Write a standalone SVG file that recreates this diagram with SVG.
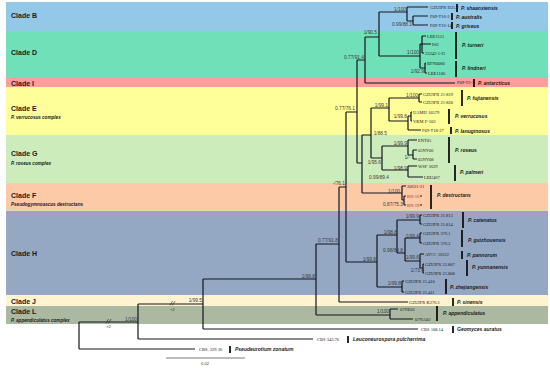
<svg xmlns="http://www.w3.org/2000/svg" width="550" height="368" viewBox="0 0 550 368">
<style>
.cl{font-family:"Liberation Sans",Arial,sans-serif;font-size:7px;font-weight:bold;fill:#1a1a1a}
.cs{font-family:"Liberation Sans",Arial,sans-serif;font-size:4.6px;font-weight:bold;font-style:italic;fill:#1a1a1a}
.lf{font-family:"Liberation Serif","Times New Roman",serif;font-size:4.5px;fill:#1a1a1a}
.sp{font-family:"Liberation Sans",Arial,sans-serif;font-size:5px;font-weight:bold;font-style:italic;fill:#1a1a1a}
.su{font-family:"Liberation Sans",Arial,sans-serif;font-size:4.8px;fill:#3a3a3a;text-anchor:end}
.sm{font-family:"Liberation Sans",Arial,sans-serif;font-size:4px;fill:#333}
.tr{fill:none;stroke:#15151f;stroke-width:1.2}
.bar{stroke:#111;stroke-width:1.8}
.red{fill:#a0302a}
</style>
<g id="bands">
<rect x="6" y="2" width="542" height="29" fill="#94c8e8"/>
<rect x="6" y="31" width="542" height="47" fill="#70e0b8"/>
<rect x="6" y="78" width="542" height="9" fill="#ff9c9c"/>
<rect x="6" y="87" width="542" height="48" fill="#ffff99"/>
<rect x="6" y="135" width="542" height="48" fill="#cdecbb"/>
<rect x="6" y="183" width="542" height="26" fill="#fdcaa8"/>
<rect x="6" y="209" width="542" height="2" fill="#d6dcb6"/>
<rect x="6" y="211" width="542" height="4" fill="#a99cc6"/>
<rect x="6" y="215" width="542" height="80" fill="#94a8c4"/>
<rect x="6" y="295" width="542" height="11" fill="#fff3d0"/>
<rect x="6" y="306" width="542" height="18" fill="#aab99f"/>
</g>
<g id="clade-labels">
<text class="cl" x="11" y="18">Clade B</text>
<text class="cl" x="11" y="55">Clade D</text>
<text class="cl" x="11" y="85.5">Clade I</text>
<text class="cl" x="11" y="111">Clade E</text>
<text class="cs" x="11" y="118.5">P. verrucosus complex</text>
<text class="cl" x="11" y="156">Clade G</text>
<text class="cs" x="11" y="164.5">P. roseus complex</text>
<text class="cl" x="11" y="198">Clade F</text>
<text class="cs" x="11" y="205.5">Pseudogymnoascus destructans</text>
<text class="cl" x="11" y="256">Clade H</text>
<text class="cl" x="11" y="303.5">Clade J</text>
<text class="cl" x="11" y="314">Clade L</text>
<text class="cs" x="11" y="322">P. appendiculatus complex</text>
</g>
<g id="connectors">
<path class="tr" d="M79 322V349M79 322H138M79 349H195M138 304V339M138 339H313M138 304H203M203 279V329M203 329H418M203 279H316M316 244V315M316 315H390M390 309V319M390 309H398M390 319H413M316 244H339M339 187V302M339 302H408M339 187H346M346 112V262"/>
<path class="tr" d="M346 262H377M377 235V287M377 235H397M397 220V253M397 220H420M420 215V224M420 215H422M420 224H422M397 253H405M405 238V261M405 238H420M420 233V243M420 233H422M420 243H422M405 261H420M420 254V268M420 254H424M420 268H423M423 264V273M423 264H424M423 273H424M377 287H402M402 281V292M402 281H404M402 292H404"/>
<path class="tr" d="M346 112H357M357 60V163M357 60H365M365 37V83M365 83H455M365 37H379M379 12V56M379 12H407M407 7V21M407 7H428M407 21H413M413 16V25M413 16H428M413 25H428M379 56H420M420 44V68M420 44H422M422 36V53M422 36H426M422 44H431M422 53H424M420 68H425M425 63V73M425 63H426M425 73H427"/>
<path class="tr" d="M357 163H362M362 135V193M362 135H371M371 108V158M371 108H389M389 98V121M389 98H419M419 94V102M419 94H422M419 102H422M389 121H408M408 116V130M408 116H411M411 112V121M411 112H412M411 121H412M408 130H421M371 158H382M382 146V170M382 146H408M408 140V155M408 140H417M408 155H413M413 150V159M413 150H417M413 159H417M382 170H408M408 166V177M408 166H417M408 177H423M362 193H402M402 186V200M402 186H406M402 200H404M404 196V205M404 196H406M404 205H406"/>
<path fill="none" stroke="#222" stroke-width="0.6" d="M106 323.5L108.5 319M108.5 323.5L111 319M170 305.5L172.5 301M172.5 305.5L175 301"/>
<path fill="none" stroke="#222" stroke-width="0.6" d="M166 358H245"/>
</g>
<g id="support">
<text class="su" x="406" y="11">1/100</text>
<text class="su" x="412" y="25.5">0.99/88.1</text>
<text class="su" x="377" y="34">1/90.5</text>
<text class="su" x="364" y="58.5">0.77/91.4</text>
<text class="su" x="419" y="54">1/100</text>
<text class="su" x="424" y="72.5">1/92.9</text>
<text class="su" x="355" y="110">0.77/76.1</text>
<text class="su" x="418" y="96.5">1/100</text>
<text class="su" x="388" y="106.5">1/99.1</text>
<text class="su" x="407" y="117.5">1/99.8</text>
<text class="su" x="387" y="135">1/88.5</text>
<text class="su" x="407" y="144.5">1/99.9</text>
<text class="su" x="410" y="158.5">1/-</text>
<text class="su" x="381" y="164">1/95.6</text>
<text class="su" x="407" y="169.5">1/98.9</text>
<text class="su" x="389" y="179">0.99/89.4</text>
<text class="su" x="345" y="185">-/76.1</text>
<text class="su" x="400" y="193">1/100</text>
<text class="su" x="403" y="205.5">0.87/75.3</text>
<text class="su" x="419" y="217.5">1/99.9</text>
<text class="su" x="397" y="233.5">1/98.8</text>
<text class="su" x="419" y="237.5">1/99.4</text>
<text class="su" x="403" y="252">0.98/84.8</text>
<text class="su" x="419" y="259">1/99.6</text>
<text class="su" x="424" y="271.5">1/73.4</text>
<text class="su" x="376" y="260.5">1/99.8</text>
<text class="su" x="338" y="242">0.77/91.8</text>
<text class="su" x="401" y="285">1/99.8</text>
<text class="su" x="315" y="277.5">1/99.8</text>
<text class="su" x="389" y="313">1/100</text>
<text class="su" x="202" y="302">1/99.5</text>
<text class="su" x="137" y="320.5">1/100</text>
<text class="sm" x="108.5" y="327.5" text-anchor="middle">×2</text>
<text class="sm" x="172.5" y="310.5" text-anchor="middle">×2</text>
<text class="sm" x="205" y="365" text-anchor="middle" font-size="3.5">0.02</text>
</g>
<g id="cladeB">
<text class="lf" x="430" y="8.5">GZUIFR H25.7</text>
<text class="lf" x="430" y="17.5">F09-T16-3</text>
<text class="lf" x="430" y="26.5">F09-T16-14</text>
<line class="bar" x1="457" y1="4" x2="457" y2="12"/>
<line class="bar" x1="452" y1="13" x2="452" y2="20"/>
<line class="bar" x1="452" y1="22" x2="452" y2="29"/>
<text class="sp" x="461" y="9.5">P. shaanxiensis</text>
<text class="sp" x="456" y="18.5">P. australis</text>
<text class="sp" x="456" y="27.5">P. griseus</text>
</g>
<g id="cladeD">
<text class="lf" x="427" y="37.5">LBE1121</text>
<text class="lf" x="432" y="45.5">Pd1</text>
<text class="lf" x="425" y="54.5">23342-1-I1</text>
<text class="lf" x="427" y="64.5">BFN0080</text>
<text class="lf" x="428" y="74.5">LBE1106</text>
<line class="bar" x1="456" y1="32" x2="456" y2="59"/>
<line class="bar" x1="456" y1="61" x2="456" y2="77"/>
<text class="sp" x="462" y="47">P. turneri</text>
<text class="sp" x="462" y="70">P. lindneri</text>
</g>
<g id="cladeI">
<text class="lf" x="457" y="84">F09-T2-1</text>
<line class="bar" x1="474" y1="79" x2="474" y2="87"/>
<text class="sp" x="478" y="84.5">P. antarcticus</text>
</g>
<g id="cladeE">
<text class="lf" x="423" y="95.5">GZUIFR 21-819</text>
<text class="lf" x="423" y="103.5">GZUIFR 21-820</text>
<text class="lf" x="413" y="113.5">UAMH 10579</text>
<text class="lf" x="413" y="122.5">VKM F-103</text>
<text class="lf" x="422" y="131.5">F09-T18-27</text>
<line class="bar" x1="462" y1="90" x2="462" y2="106"/>
<line class="bar" x1="449" y1="109" x2="449" y2="124"/>
<line class="bar" x1="451" y1="127" x2="451" y2="134"/>
<text class="sp" x="467" y="100">P. fujianensis</text>
<text class="sp" x="455" y="118">P. verrucosus</text>
<text class="sp" x="455" y="132.5">P. lanuginosus</text>
</g>
<g id="cladeG">
<text class="lf" x="418" y="141.5">ENT05</text>
<text class="lf" x="418" y="151.5">05NY06</text>
<text class="lf" x="418" y="160.5">05NY08</text>
<text class="lf" x="418" y="167.5">WSF 3629</text>
<text class="lf" x="424" y="178.5">LBU467</text>
<line class="bar" x1="449" y1="137" x2="449" y2="163"/>
<line class="bar" x1="455" y1="165" x2="455" y2="181"/>
<text class="sp" x="455" y="152">P. roseus</text>
<text class="sp" x="460" y="174">P. palmeri</text>
</g>
<g id="cladeF">
<text class="lf" x="407" y="187.5">20631-21</text>
<text class="lf red" x="407" y="197.5">RN-16</text>
<text class="lf red" x="407" y="206.5">RN-19</text>
<circle cx="421" cy="196" r="1" fill="#b03a2e"/>
<circle cx="421" cy="205" r="1" fill="#b03a2e"/>
<line class="bar" x1="431" y1="185" x2="431" y2="209"/>
<text class="sp" x="437" y="197">P. destructans</text>
</g>
<g id="cladeH">
<text class="lf" x="423" y="216.5">GZUIFR 21.813</text>
<text class="lf" x="423" y="225.5">GZUIFR 21.814</text>
<text class="lf" x="423" y="234.5">GZUIFR 376.1</text>
<text class="lf" x="423" y="244.5">GZUIFR 376.2</text>
<text class="lf" x="425" y="255.5">ATCC 16222</text>
<text class="lf" x="425" y="265.5">GZUIFR 21.807</text>
<text class="lf" x="425" y="274.5">GZUIFR 21.808</text>
<text class="lf" x="405" y="282.5">GZUIFR 21.410</text>
<text class="lf" x="405" y="293.5">GZUIFR 21.411</text>
<line class="bar" x1="463" y1="212" x2="463" y2="228"/>
<line class="bar" x1="462" y1="230" x2="462" y2="247"/>
<line class="bar" x1="462" y1="251" x2="462" y2="259"/>
<line class="bar" x1="467" y1="260" x2="467" y2="276"/>
<line class="bar" x1="446" y1="279" x2="446" y2="294"/>
<text class="sp" x="468" y="222">P. catenatus</text>
<text class="sp" x="468" y="242">P. guizhouensis</text>
<text class="sp" x="467" y="256.5">P. pannorum</text>
<text class="sp" x="472" y="269">P. yunnanensis</text>
<text class="sp" x="450" y="289">P. zhejiangensis</text>
</g>
<g id="cladeJ">
<text class="lf" x="409" y="303.5">GZUIFR K276.1</text>
<line class="bar" x1="453" y1="298" x2="453" y2="306"/>
<text class="sp" x="457" y="304">P. sinensis</text>
</g>
<g id="cladeL">
<text class="lf" x="400" y="310.5">07NE01</text>
<text class="lf" x="415" y="320.5">07NA02</text>
<line class="bar" x1="437" y1="306" x2="437" y2="321"/>
<text class="sp" x="443" y="315">P. appendiculatus</text>
</g>
<g id="outgroups">
<text class="lf" x="421" y="330.5">CBS 108.14</text>
<line class="bar" x1="453" y1="326" x2="453" y2="333"/>
<text class="sp" x="457" y="331">Geomyces auratus</text>
<text class="lf" x="317" y="340.5">CBS 343.76</text>
<line class="bar" x1="348" y1="336" x2="348" y2="343"/>
<text class="sp" x="353" y="341">Leuconeurospora pulcherrima</text>
<text class="lf" x="199" y="350.5">CBS. 329 36</text>
<line class="bar" x1="230" y1="346" x2="230" y2="353"/>
<text class="sp" x="235" y="351">Pseudeurotium zonatum</text>
</g>
</svg>
